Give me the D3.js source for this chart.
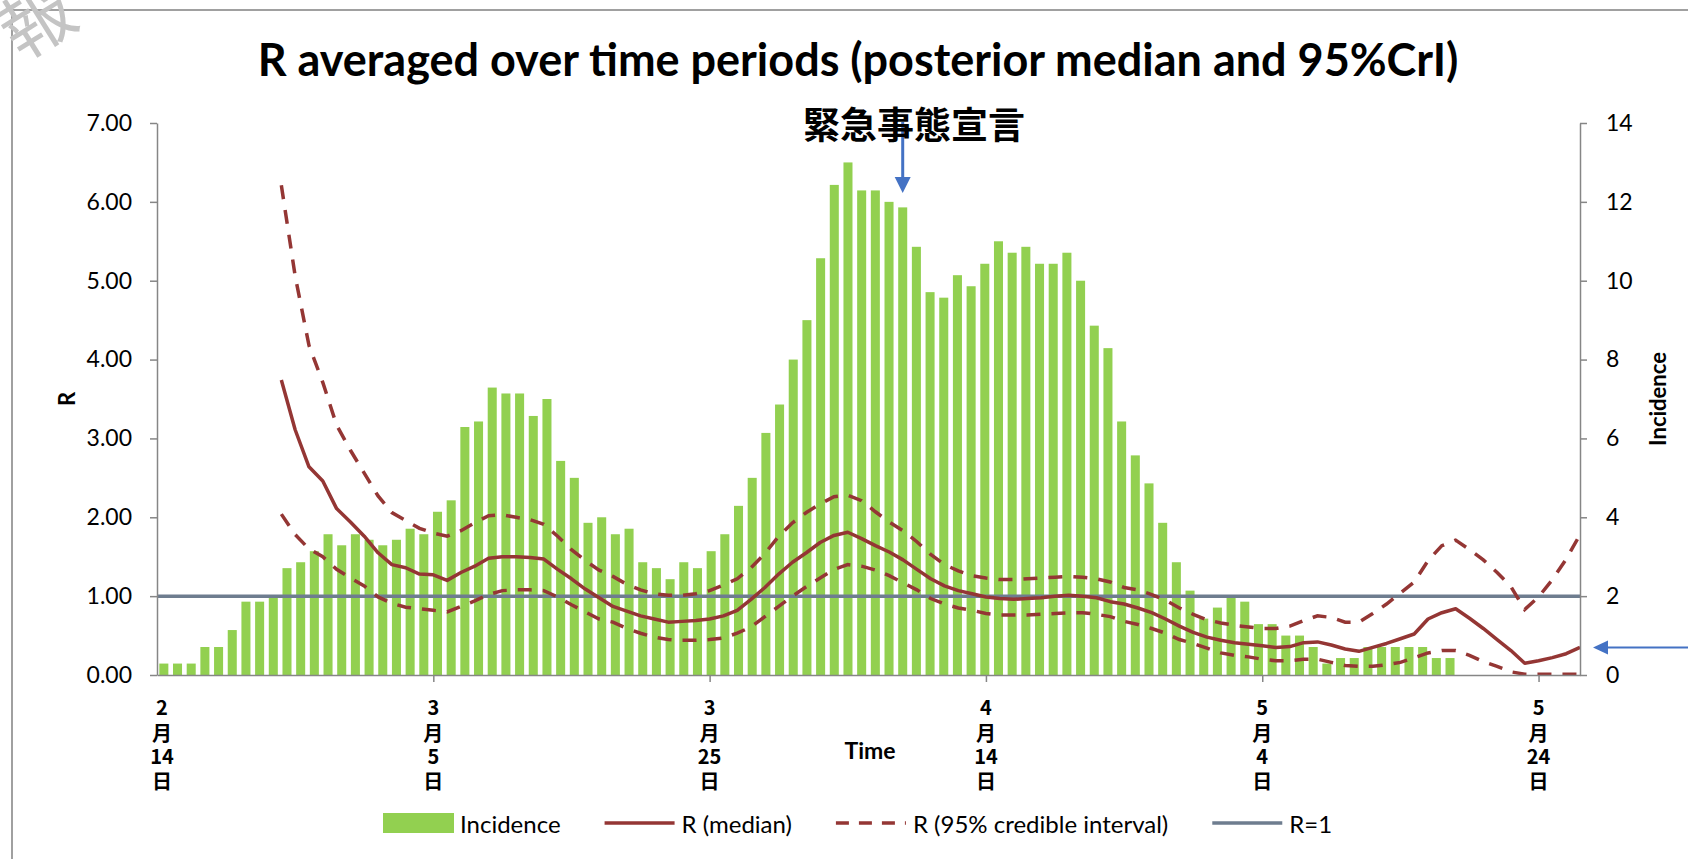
<!DOCTYPE html>
<html>
<head>
<meta charset="utf-8">
<script src="https://cdn.jsdelivr.net/npm/d3@7"></script>
<style>
    body { margin: 0; background: #fff; }
    text { font-family: Lato, "Noto Sans", sans-serif; fill: #000; }
    .cjk { font-family: "Noto Sans CJK JP", sans-serif; }
</style>
</head>
<body>
<svg id="chart"></svg>
<script>
// x axis: one category per day, 2/14 .. 5/27
const dayCount = 104;
const tickDays = [0, 20, 40, 60, 80, 100];
const tickLabels = ["2月14日", "3月5日", "3月25日", "4月14日", "5月4日", "5月24日"];

// incidence (7-day average), from 2/14
const incidence = [
    0.29, 0.29, 0.29, 0.71, 0.71, 1.14, 1.86, 1.86, 2.0, 2.71,
    2.86, 3.14, 3.57, 3.29, 3.57, 3.43, 3.29, 3.43, 3.71, 3.57,
    4.14, 4.43, 6.29, 6.43, 7.29, 7.14, 7.14, 6.57, 7.0, 5.43,
    5.0, 3.86, 4.0, 3.57, 3.71, 2.86, 2.71, 2.43, 2.86, 2.71,
    3.14, 3.57, 4.29, 5.0, 6.14, 6.86, 8.0, 9.0, 10.57, 12.43,
    13.0, 12.29, 12.29, 12.0, 11.86, 10.86, 9.71, 9.57, 10.14, 9.86,
    10.43, 11.0, 10.71, 10.86, 10.43, 10.43, 10.71, 10.0, 8.86, 8.29,
    6.43, 5.57, 4.86, 3.86, 2.86, 2.14, 1.43, 1.71, 2.0, 1.86,
    1.29, 1.29, 1.0, 1.0, 0.71, 0.29, 0.43, 0.43, 0.71, 0.71,
    0.71, 0.71, 0.71, 0.43, 0.43
];

// R estimates start on day 9 (2/23)
const rStart = 9;
const rMedian = [
    3.74, 3.11, 2.64, 2.46, 2.11, 1.94, 1.76, 1.55, 1.40, 1.36,
    1.28, 1.27, 1.20, 1.30, 1.38, 1.48, 1.50, 1.50, 1.49, 1.47,
    1.34, 1.22, 1.09, 0.98, 0.87, 0.81, 0.75, 0.71, 0.67, 0.68,
    0.69, 0.71, 0.75, 0.82, 0.96, 1.11, 1.28, 1.43, 1.55, 1.68,
    1.77, 1.81, 1.73, 1.64, 1.56, 1.46, 1.34, 1.22, 1.13, 1.07,
    1.03, 0.99, 0.97, 0.96, 0.97, 0.98, 1.00, 1.01, 1.00, 0.98,
    0.93, 0.90, 0.85, 0.79, 0.71, 0.62, 0.54, 0.48, 0.44, 0.41,
    0.39, 0.37, 0.35, 0.36, 0.41, 0.42, 0.38, 0.33, 0.30, 0.35,
    0.40, 0.46, 0.52, 0.71, 0.79, 0.84, 0.72, 0.59, 0.45, 0.31,
    0.15, 0.18, 0.22, 0.27, 0.35
];
const rUpper = [
    6.21, 5.06, 4.18, 3.71, 3.17, 2.85, 2.56, 2.27, 2.06, 1.96,
    1.86, 1.80, 1.76, 1.83, 1.93, 2.02, 2.03, 2.00, 1.97, 1.91,
    1.76, 1.59, 1.45, 1.33, 1.25, 1.15, 1.08, 1.03, 1.01, 1.01,
    1.03, 1.07, 1.14, 1.22, 1.36, 1.54, 1.76, 1.93, 2.06, 2.17,
    2.26, 2.28, 2.21, 2.07, 1.94, 1.83, 1.69, 1.53, 1.40, 1.32,
    1.26, 1.23, 1.21, 1.21, 1.22, 1.23, 1.24, 1.25, 1.24, 1.22,
    1.18, 1.11, 1.08, 1.02, 0.95, 0.85, 0.77, 0.70, 0.66, 0.63,
    0.61, 0.59, 0.59, 0.62, 0.69, 0.75, 0.73, 0.67, 0.67, 0.78,
    0.90, 1.04, 1.18, 1.45, 1.64, 1.71, 1.59, 1.46, 1.30, 1.12,
    0.83, 0.99, 1.21, 1.47, 1.78
];
const rLower = [
    2.04, 1.78, 1.60, 1.50, 1.34, 1.23, 1.13, 0.99, 0.91, 0.86,
    0.84, 0.82, 0.80, 0.87, 0.94, 1.02, 1.07, 1.08, 1.08, 1.07,
    0.99, 0.89, 0.80, 0.71, 0.67, 0.59, 0.53, 0.48, 0.45, 0.44,
    0.44, 0.45, 0.47, 0.53, 0.61, 0.74, 0.87, 1.00, 1.12, 1.23,
    1.34, 1.40, 1.38, 1.33, 1.26, 1.17, 1.08, 0.97, 0.90, 0.85,
    0.82, 0.78, 0.76, 0.76, 0.76, 0.77, 0.78, 0.79, 0.79, 0.77,
    0.74, 0.68, 0.64, 0.59, 0.53, 0.45, 0.40, 0.34, 0.28, 0.25,
    0.23, 0.20, 0.18, 0.18, 0.20, 0.20, 0.16, 0.12, 0.11, 0.11,
    0.13, 0.16, 0.22, 0.28, 0.31, 0.31, 0.25, 0.17, 0.11, 0.04,
    0.01, 0.01, 0.01, 0.01, 0.01
];
const rThreshold = 1;
const declarationDay = 54; // 緊急事態宣言 arrow

const width = 1688;
const height = 859;
const plot = { left: 157, right: 1580, top: 123, bottom: 675 };

const green = "#92D050";
const red = "#943634";
const slate = "#6E7D8F";
const axisGrey = "#868686";
const blue = "#4472C4";

const svg = d3.select("#chart")
    .attr("width", width)
    .attr("height", height);

svg.append("rect").attr("width", width).attr("height", height).attr("fill", "#fff");

// chart frame (only top and left edges are in view)
svg.append("path")
    .attr("d", `M12,${height} L12,10 L${width},10`)
    .attr("fill", "none")
    .attr("stroke", "#a0a0a0")
    .attr("stroke-width", 2);

// watermark in the corner
svg.append("text")
    .attr("class", "cjk")
    .attr("transform", "translate(34,16) rotate(-32)")
    .attr("text-anchor", "middle")
    .attr("dominant-baseline", "central")
    .attr("font-size", 72)
    .style("fill", "#c4c4c4")
    .text("報");

// scales
const days = d3.range(dayCount);
const xBar = d3.scaleBand()
    .domain(days)
    .range([plot.left, plot.right])
    .paddingInner(0.34)
    .paddingOuter(0.17);
const xLine = d3.scalePoint()
    .domain(days)
    .range([plot.left, plot.right]);
const yR = d3.scaleLinear().domain([0, 7]).range([plot.bottom, plot.top]);
const yInc = d3.scaleLinear().domain([0, 14]).range([plot.bottom, plot.top]);

// incidence bars
svg.append("g")
    .selectAll("rect")
    .data(incidence)
    .join("rect")
    .attr("x", (d, i) => xBar(i))
    .attr("y", d => yInc(d))
    .attr("width", xBar.bandwidth())
    .attr("height", d => yInc(0) - yInc(d))
    .attr("fill", green);

// R = 1 reference
svg.append("line")
    .attr("x1", plot.left)
    .attr("x2", plot.right)
    .attr("y1", yR(rThreshold))
    .attr("y2", yR(rThreshold))
    .attr("stroke", slate)
    .attr("stroke-width", 3.5);

// R series
const rLine = d3.line()
    .x((d, k) => xLine(rStart + k))
    .y(d => yR(d));

[rUpper, rLower].forEach(series => {
    svg.append("path")
        .attr("d", rLine(series))
        .attr("fill", "none")
        .attr("stroke", red)
        .attr("stroke-width", 3.5)
        .attr("stroke-dasharray", "14,11");
});

svg.append("path")
    .attr("d", rLine(rMedian))
    .attr("fill", "none")
    .attr("stroke", red)
    .attr("stroke-width", 3.5)
    .attr("stroke-linejoin", "round");

// axes
function styleAxis(g) {
    g.selectAll(".domain, .tick line")
        .attr("stroke", axisGrey)
        .attr("stroke-width", 1.5);
    g.selectAll("text")
        .attr("font-family", "Lato, sans-serif")
        .attr("font-size", 23)
        .attr("fill", "#000");
}

svg.append("g")
    .attr("transform", `translate(${plot.left},0)`)
    .call(d3.axisLeft(yR)
        .tickValues(d3.range(0, 8))
        .tickFormat(d3.format(".2f"))
        .tickSize(7)
        .tickSizeOuter(0)
        .tickPadding(18))
    .call(styleAxis);

svg.append("g")
    .attr("transform", `translate(${plot.right},0)`)
    .call(d3.axisRight(yInc)
        .tickValues(d3.range(0, 15, 2))
        .tickFormat(d3.format("d"))
        .tickSize(7)
        .tickSizeOuter(0)
        .tickPadding(19))
    .call(styleAxis);

svg.append("g")
    .attr("transform", `translate(0,${plot.bottom})`)
    .call(d3.axisBottom(xLine)
        .tickValues(tickDays.slice(1))
        .tickFormat("")
        .tickSize(7)
        .tickSizeOuter(0))
    .call(styleAxis);

// stacked date labels: month / 月 / day / 日
const lineY = [706, 732, 755, 780];
tickDays.forEach((day, i) => {
    const parts = tickLabels[i].match(/^(\d+)(月)(\d+)(日)$/).slice(1);
    const t = svg.append("text")
        .attr("class", "cjk")
        .attr("text-anchor", "middle")
        .attr("font-size", 20)
        .attr("font-weight", "bold");
    parts.forEach((p, k) => {
        t.append("tspan")
            .attr("x", xLine(day) + (i === 0 ? 5 : 0))
            .attr("y", lineY[k])
            .attr("dominant-baseline", "central")
            .text(p);
    });
});

// axis titles
svg.append("text")
    .attr("x", 870)
    .attr("y", 750)
    .attr("text-anchor", "middle")
    .attr("dominant-baseline", "central")
    .attr("font-size", 23)
    .attr("font-weight", "bold")
    .text("Time");

svg.append("text")
    .attr("transform", "translate(66,399) rotate(-90)")
    .attr("text-anchor", "middle")
    .attr("dominant-baseline", "central")
    .attr("font-size", 22)
    .attr("font-weight", "bold")
    .text("R");

svg.append("text")
    .attr("transform", "translate(1657,399) rotate(-90)")
    .attr("text-anchor", "middle")
    .attr("dominant-baseline", "central")
    .attr("font-size", 22)
    .attr("font-weight", "bold")
    .text("Incidence");

// title, sized to span the same width as the original
const title = svg.append("text")
    .attr("x", 858)
    .attr("y", 76)
    .attr("text-anchor", "middle")
    .attr("font-size", 40)
    .attr("font-weight", "bold")
    .text("R averaged over time periods (posterior median and 95%CrI)");
const tw = title.node().getComputedTextLength();
title.attr("font-size", 40 * 1201 / tw);

// emergency declaration annotation
const declX = xBar(declarationDay) + xBar.bandwidth() / 2;
svg.append("line")
    .attr("x1", declX).attr("x2", declX)
    .attr("y1", 122).attr("y2", 180)
    .attr("stroke", blue)
    .attr("stroke-width", 3);
svg.append("path")
    .attr("d", `M${declX - 8},177 L${declX + 8},177 L${declX},193 Z`)
    .attr("fill", blue);
svg.append("text")
    .attr("class", "cjk")
    .attr("x", 914)
    .attr("y", 123)
    .attr("text-anchor", "middle")
    .attr("dominant-baseline", "central")
    .attr("font-size", 37)
    .attr("font-weight", "bold")
    .text("緊急事態宣言");

// arrow at the right edge pointing at the latest median R
const lastY = yR(rMedian[rMedian.length - 1]);
svg.append("line")
    .attr("x1", width).attr("x2", 1605)
    .attr("y1", lastY).attr("y2", lastY)
    .attr("stroke", blue)
    .attr("stroke-width", 2);
svg.append("path")
    .attr("d", `M1593,${lastY} L1608,${lastY - 7} L1608,${lastY + 7} Z`)
    .attr("fill", blue);

// legend
const legendItems = [
    { label: "Incidence", type: "bar" },
    { label: "R (median)", type: "solid" },
    { label: "R (95% credible interval)", type: "dash" },
    { label: "R=1", type: "ref" }
];
const legend = svg.append("g").attr("transform", "translate(383,823)");
let lx = 0;
legendItems.forEach(item => {
    if (item.type === "bar") {
        legend.append("rect")
            .attr("x", lx).attr("y", -10)
            .attr("width", 71).attr("height", 20)
            .attr("fill", green);
    } else {
        legend.append("line")
            .attr("x1", lx).attr("x2", lx + 70)
            .attr("y1", 0).attr("y2", 0)
            .attr("stroke", item.type === "ref" ? slate : red)
            .attr("stroke-width", 3.5)
            .attr("stroke-dasharray", item.type === "dash" ? "13,10" : null);
    }
    const t = legend.append("text")
        .attr("x", lx + 77)
        .attr("y", 0)
        .attr("dominant-baseline", "central")
        .attr("font-size", 24)
        .text(item.label);
    lx += 77 + t.node().getComputedTextLength() + 44;
});
</script>
</body>
</html>
